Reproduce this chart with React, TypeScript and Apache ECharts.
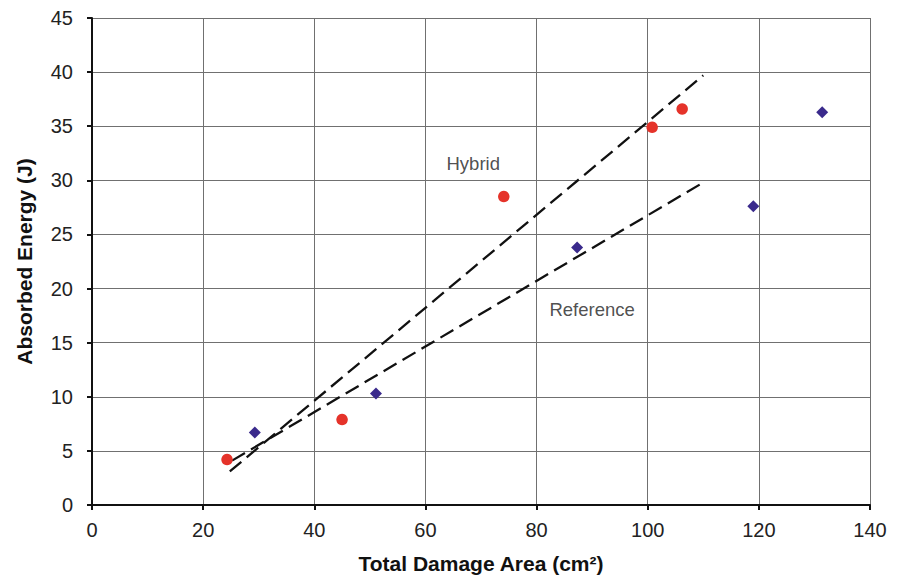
import React, { useEffect, useRef } from "react";
import * as echarts from "echarts";

const hybridPoints: [number, number][] = [
  [24.3, 4.2],
  [45.0, 7.9],
  [74.1, 28.5],
  [100.8, 34.9],
  [106.2, 36.6],
];
const referencePoints: [number, number][] = [
  [29.3, 6.7],
  [51.1, 10.3],
  [87.3, 23.8],
  [119.0, 27.6],
  [131.4, 36.3],
];
const hybridTrend: [number, number][] = [
  [24.8, 3.1],
  [110, 39.7],
];
const referenceTrend: [number, number][] = [
  [25.2, 4.1],
  [110, 29.8],
];
const annotations: { name: string; value: [number, number] }[] = [
  { name: "Hybrid", value: [68.6, 31.6] },
  { name: "Reference", value: [90.0, 18.1] },
];

export default function App() {
  const ref = useRef<HTMLDivElement>(null);
  useEffect(() => {
    if (!ref.current) return;
    const chart = echarts.init(ref.current, null, { renderer: "svg" });
    const font = "Liberation Sans, Arial, sans-serif";
    chart.setOption({
      animation: false,
      backgroundColor: "#ffffff",
      textStyle: { fontFamily: font },
      grid: { left: 92, right: 32, top: 18, bottom: 77, containLabel: false },
      xAxis: {
        type: "value",
        min: 0,
        max: 140,
        interval: 20,
        name: "Total Damage Area (cm²)",
        nameLocation: "middle",
        nameGap: 48,
        nameTextStyle: { fontSize: 21, fontWeight: "bold", color: "#111", fontFamily: font },
        axisLine: { onZero: false, lineStyle: { color: "#111", width: 2 } },
        axisTick: { show: true, length: 5, lineStyle: { color: "#111", width: 2 } },
        axisLabel: { fontSize: 20, color: "#222", margin: 15, fontFamily: font },
        splitLine: { show: true, lineStyle: { color: "#707070", width: 1 } },
      },
      yAxis: {
        type: "value",
        min: 0,
        max: 45,
        interval: 5,
        name: "Absorbed Energy (J)",
        nameLocation: "middle",
        nameGap: 57,
        nameTextStyle: { fontSize: 21, fontWeight: "bold", color: "#111", fontFamily: font },
        axisLine: { onZero: false, lineStyle: { color: "#111", width: 2 } },
        axisTick: { show: true, length: 5, lineStyle: { color: "#111", width: 2 } },
        axisLabel: { fontSize: 20, color: "#222", margin: 19, fontFamily: font },
        splitLine: { show: true, lineStyle: { color: "#707070", width: 1 } },
      },
      series: [
        {
          name: "Hybrid trend",
          type: "line",
          data: hybridTrend,
          symbol: "none",
          lineStyle: { color: "#111", width: 2.3, type: [15, 7] },
          z: 3,
        },
        {
          name: "Reference trend",
          type: "line",
          data: referenceTrend,
          symbol: "none",
          lineStyle: { color: "#111", width: 2.3, type: [15, 7] },
          z: 3,
        },
        {
          name: "Hybrid",
          type: "scatter",
          data: hybridPoints,
          symbol: "circle",
          symbolSize: 11.5,
          itemStyle: { color: "#e5332a", opacity: 1 },
          z: 4,
        },
        {
          name: "Reference",
          type: "scatter",
          data: referencePoints,
          symbol: "diamond",
          symbolSize: 12,
          itemStyle: { color: "#3a2a8c", opacity: 1 },
          z: 4,
        },
        {
          name: "labels",
          type: "scatter",
          data: annotations,
          symbolSize: 0,
          label: {
            show: true,
            position: "inside",
            formatter: (p: any) => p.name,
            fontSize: 18.5,
            color: "#222",
            fontFamily: font,
          },
          z: 5,
        },
      ],
    });
    return () => chart.dispose();
  }, []);
  return (
    <div
      ref={ref}
      style={{ position: "fixed", left: 0, top: 0, width: 902, height: 582, background: "#fff" }}
    />
  );
}
